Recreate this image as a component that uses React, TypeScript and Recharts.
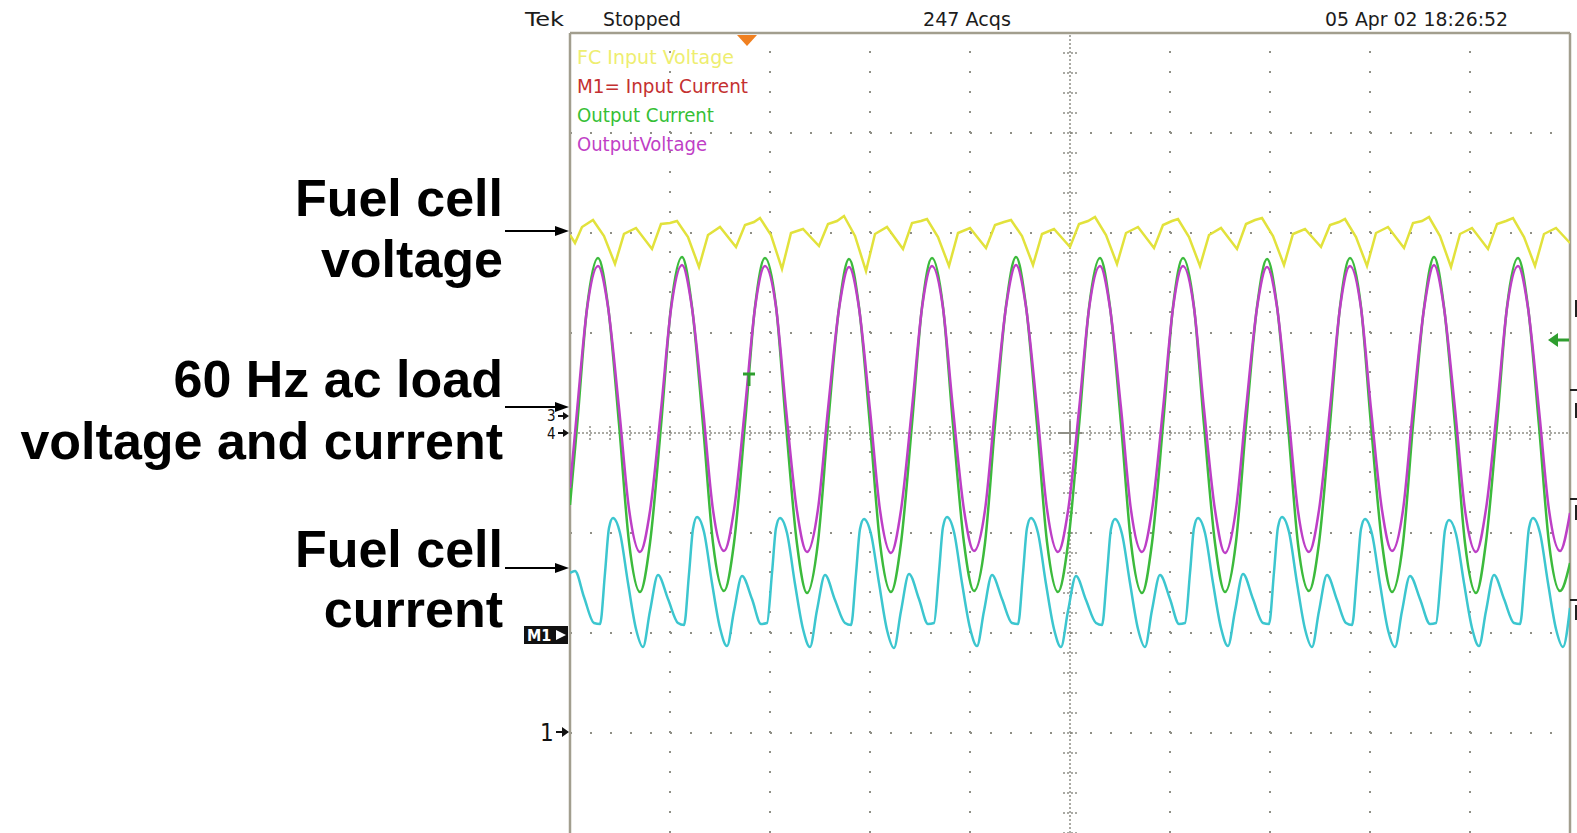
import React from 'react';
import { LineChart, Line, XAxis, YAxis, ReferenceLine } from 'recharts';

// scope screen: 10 x 8 divisions, x = time in div, y = div from the centre line

const outputVoltage: [number, number][] = [
  [0, -0.55], [0.07, 0.22], [0.17, 1.24],
  [0.28, 1.67], [0.38, 1.26], [0.49, 0.25], [0.59, -0.76], [0.7, -1.19], [0.8, -0.78], [0.91, 0.23], [1.01, 1.24],
  [1.12, 1.68], [1.22, 1.25], [1.33, 0.24], [1.43, -0.77], [1.54, -1.18], [1.64, -0.77], [1.75, 0.25], [1.85, 1.25],
  [1.95, 1.67], [2.06, 1.26], [2.16, 0.24], [2.27, -0.78], [2.37, -1.19], [2.48, -0.76], [2.58, 0.24], [2.69, 1.24],
  [2.79, 1.66], [2.89, 1.25], [3.0, 0.23], [3.1, -0.77], [3.21, -1.2], [3.31, -0.77], [3.42, 0.25], [3.52, 1.25],
  [3.62, 1.67], [3.73, 1.25], [3.83, 0.24], [3.94, -0.77], [4.04, -1.18], [4.15, -0.77], [4.25, 0.24], [4.36, 1.26],
  [4.46, 1.68], [4.56, 1.26], [4.67, 0.24], [4.77, -0.76], [4.88, -1.19], [4.98, -0.78], [5.09, 0.23], [5.19, 1.24],
  [5.3, 1.67], [5.4, 1.25], [5.51, 0.25], [5.61, -0.77], [5.72, -1.19], [5.82, -0.77], [5.93, 0.24], [6.03, 1.25],
  [6.13, 1.67], [6.24, 1.25], [6.34, 0.24], [6.45, -0.77], [6.55, -1.2], [6.66, -0.76], [6.76, 0.24], [6.87, 1.25],
  [6.97, 1.66], [7.07, 1.26], [7.18, 0.23], [7.28, -0.78], [7.39, -1.19], [7.49, -0.77], [7.6, 0.25], [7.7, 1.25],
  [7.8, 1.67], [7.91, 1.25], [8.01, 0.24], [8.12, -0.77], [8.22, -1.18], [8.33, -0.77], [8.43, 0.24], [8.54, 1.24],
  [8.64, 1.68], [8.74, 1.25], [8.85, 0.24], [8.95, -0.77], [9.06, -1.19], [9.16, -0.76], [9.27, 0.24], [9.37, 1.25],
  [9.48, 1.67], [9.58, 1.25], [9.69, 0.23], [9.79, -0.77], [9.9, -1.18], [10, -0.8],
];

const outputCurrent: [number, number][] = [
  [0, -0.72], [0.07, 0.06], [0.17, 1.25],
  [0.28, 1.75], [0.38, 1.27], [0.49, 0.09], [0.59, -1.09], [0.7, -1.59], [0.8, -1.1], [0.91, 0.07], [1.01, 1.26],
  [1.12, 1.76], [1.22, 1.26], [1.33, 0.08], [1.43, -1.1], [1.54, -1.58], [1.64, -1.1], [1.75, 0.09], [1.85, 1.26],
  [1.95, 1.75], [2.06, 1.27], [2.16, 0.08], [2.27, -1.11], [2.37, -1.6], [2.48, -1.09], [2.58, 0.08], [2.69, 1.25],
  [2.79, 1.74], [2.89, 1.26], [3.0, 0.07], [3.1, -1.1], [3.21, -1.59], [3.31, -1.1], [3.42, 0.09], [3.52, 1.26],
  [3.62, 1.75], [3.73, 1.26], [3.83, 0.08], [3.94, -1.1], [4.04, -1.58], [4.15, -1.1], [4.25, 0.08], [4.36, 1.27],
  [4.46, 1.76], [4.56, 1.27], [4.67, 0.08], [4.77, -1.09], [4.88, -1.59], [4.98, -1.11], [5.09, 0.07], [5.19, 1.25],
  [5.3, 1.75], [5.4, 1.26], [5.51, 0.09], [5.61, -1.1], [5.72, -1.6], [5.82, -1.1], [5.93, 0.08], [6.03, 1.26],
  [6.13, 1.75], [6.24, 1.26], [6.34, 0.08], [6.45, -1.1], [6.55, -1.59], [6.66, -1.09], [6.76, 0.08], [6.87, 1.26],
  [6.97, 1.74], [7.07, 1.27], [7.18, 0.07], [7.28, -1.11], [7.39, -1.58], [7.49, -1.1], [7.6, 0.09], [7.7, 1.26],
  [7.8, 1.75], [7.91, 1.26], [8.01, 0.08], [8.12, -1.1], [8.22, -1.59], [8.33, -1.1], [8.43, 0.08], [8.54, 1.25],
  [8.64, 1.76], [8.74, 1.26], [8.85, 0.08], [8.95, -1.1], [9.06, -1.6], [9.16, -1.09], [9.27, 0.08], [9.37, 1.26],
  [9.48, 1.75], [9.58, 1.26], [9.69, 0.07], [9.79, -1.1], [9.9, -1.58], [10, -1.3],
];

const fcVoltage: [number, number][] = [
  [0, 1.98], [0.05, 1.9], [0.12, 2.06],
  [0.23, 2.13], [0.34, 1.97], [0.45, 1.69], [0.54, 1.99], [0.66, 2.05], [0.82, 1.84], [0.91, 2.09], [1.0, 2.1],
  [1.07, 2.12], [1.18, 1.96], [1.29, 1.66], [1.38, 1.98], [1.5, 2.06], [1.66, 1.86], [1.75, 2.08], [1.84, 2.11],
  [1.9, 2.15], [2.01, 1.98], [2.12, 1.64], [2.21, 2.0], [2.33, 2.04], [2.49, 1.87], [2.58, 2.09], [2.67, 2.12],
  [2.74, 2.17], [2.85, 1.97], [2.96, 1.62], [3.05, 1.99], [3.17, 2.06], [3.33, 1.84], [3.42, 2.1], [3.51, 2.12],
  [3.57, 2.14], [3.68, 1.96], [3.79, 1.67], [3.88, 2.0], [4.0, 2.05], [4.16, 1.85], [4.25, 2.08], [4.34, 2.11],
  [4.41, 2.13], [4.52, 1.97], [4.63, 1.68], [4.72, 1.99], [4.84, 2.04], [5.0, 1.86], [5.09, 2.09], [5.18, 2.12],
  [5.25, 2.16], [5.36, 1.98], [5.47, 1.69], [5.56, 2.0], [5.68, 2.06], [5.84, 1.85], [5.93, 2.08], [6.02, 2.12],
  [6.08, 2.14], [6.19, 1.96], [6.3, 1.67], [6.39, 1.98], [6.51, 2.05], [6.67, 1.84], [6.76, 2.09], [6.85, 2.13],
  [6.92, 2.15], [7.03, 1.97], [7.14, 1.68], [7.23, 1.99], [7.35, 2.04], [7.51, 1.86], [7.6, 2.08], [7.69, 2.11],
  [7.75, 2.14], [7.86, 1.96], [7.97, 1.67], [8.06, 2.0], [8.18, 2.06], [8.34, 1.85], [8.43, 2.1], [8.52, 2.12],
  [8.59, 2.16], [8.7, 1.97], [8.81, 1.66], [8.9, 1.99], [9.02, 2.05], [9.18, 1.84], [9.27, 2.09], [9.36, 2.12],
  [9.43, 2.15], [9.54, 1.96], [9.65, 1.67], [9.74, 1.99], [9.86, 2.05], [10, 1.9],
];

const fcCurrent: [number, number][] = [
  [0, -1.4], [0.05, -1.38], [0.14, -1.64],
  [0.24, -1.9], [0.3, -1.91], [0.35, -1.4], [0.39, -0.95], [0.43, -0.85], [0.5, -1.0], [0.58, -1.5], [0.66, -1.96], [0.73, -2.14], [0.8, -1.78], [0.88, -1.42], [0.98, -1.66],
  [1.08, -1.9], [1.14, -1.92], [1.19, -1.41], [1.23, -0.96], [1.27, -0.84], [1.34, -0.99], [1.42, -1.5], [1.5, -1.95], [1.57, -2.13], [1.64, -1.78], [1.72, -1.43], [1.82, -1.66],
  [1.91, -1.91], [1.97, -1.9], [2.02, -1.4], [2.06, -0.95], [2.1, -0.85], [2.17, -1.0], [2.25, -1.51], [2.33, -1.96], [2.4, -2.14], [2.47, -1.77], [2.55, -1.42], [2.65, -1.67],
  [2.75, -1.9], [2.81, -1.92], [2.86, -1.41], [2.9, -0.96], [2.94, -0.86], [3.01, -1.01], [3.09, -1.5], [3.17, -1.97], [3.24, -2.15], [3.31, -1.78], [3.39, -1.41], [3.49, -1.66],
  [3.58, -1.91], [3.64, -1.9], [3.69, -1.39], [3.73, -0.94], [3.77, -0.84], [3.84, -0.99], [3.92, -1.5], [4.0, -1.95], [4.07, -2.13], [4.14, -1.78], [4.22, -1.42], [4.32, -1.66],
  [4.42, -1.9], [4.48, -1.91], [4.53, -1.4], [4.57, -0.95], [4.61, -0.85], [4.68, -1.0], [4.76, -1.51], [4.84, -1.96], [4.91, -2.14], [4.98, -1.78], [5.06, -1.43], [5.16, -1.67],
  [5.26, -1.9], [5.32, -1.92], [5.37, -1.41], [5.41, -0.96], [5.45, -0.86], [5.52, -1.01], [5.6, -1.5], [5.68, -1.96], [5.75, -2.14], [5.82, -1.77], [5.9, -1.42], [6.0, -1.66],
  [6.09, -1.91], [6.15, -1.9], [6.2, -1.4], [6.24, -0.95], [6.28, -0.85], [6.35, -1.0], [6.43, -1.5], [6.51, -1.95], [6.58, -2.13], [6.65, -1.78], [6.73, -1.41], [6.83, -1.66],
  [6.93, -1.9], [6.99, -1.91], [7.04, -1.39], [7.08, -0.94], [7.12, -0.84], [7.19, -0.99], [7.27, -1.5], [7.35, -1.96], [7.42, -2.14], [7.49, -1.78], [7.57, -1.42], [7.67, -1.67],
  [7.76, -1.9], [7.82, -1.92], [7.87, -1.41], [7.91, -0.96], [7.95, -0.86], [8.02, -1.01], [8.1, -1.51], [8.18, -1.97], [8.25, -2.14], [8.32, -1.78], [8.4, -1.43], [8.5, -1.66],
  [8.6, -1.91], [8.66, -1.9], [8.71, -1.42], [8.75, -0.97], [8.79, -0.87], [8.86, -1.01], [8.94, -1.5], [9.02, -1.95], [9.09, -2.13], [9.16, -1.78], [9.24, -1.42], [9.34, -1.66],
  [9.44, -1.9], [9.5, -1.91], [9.55, -1.4], [9.59, -0.95], [9.63, -0.85], [9.7, -1.0], [9.78, -1.5], [9.86, -1.96], [9.93, -2.14], [10, -1.75],
];

const majorX = [1, 2, 3, 4, 6, 7, 8, 9];
const majorY = [-3, -2, -1, 1, 2, 3];
const minorX = Array.from({ length: 51 }, (_, i) => Math.round(i * 2) / 10);
const minorY = Array.from({ length: 41 }, (_, i) => Math.round((i * 2 - 40)) / 10);

const legendItems = [
  { text: 'FC Input Voltage', color: '#eeee70', len: 157 },
  { text: 'M1= Input Current', color: '#c43030', len: 171 },
  { text: 'Output Current', color: '#36bf36', len: 137 },
  { text: 'OutputVoltage', color: '#c03fc6', len: 130 },
];

const GRID = '#8f8f86';
const BORDER = '#a29e8e';
const rows = (pts: [number, number][]) => pts.map(([t, v]) => ({ t, v }));
const tickStyle = { stroke: GRID, strokeWidth: 2, strokeDasharray: '2 2' };
const narrow = "'Liberation Sans Narrow','DejaVu Sans Condensed','Liberation Sans',sans-serif";
const bold = "'Liberation Sans',Arial,sans-serif";

const Arrow = ({ y }: { y: number }) => (
  <g>
    <line x1={505} x2={557} y1={y} y2={y} stroke="#000" strokeWidth={2} />
    <polygon points={`555,${y - 5} 569,${y} 555,${y + 5}`} fill="#000" />
  </g>
);

export default function App() {
  return (
    <div style={{ position: 'absolute', left: 0, top: 0, width: 1577, height: 833, background: '#fff' }}>
      <LineChart width={1577} height={833} margin={{ top: 33, right: 7, bottom: 0, left: 570 }}>
        <XAxis dataKey="t" type="number" domain={[0, 10]} ticks={minorX} orientation="bottom" mirror
          axisLine={false} tick={false} tickSize={6} tickLine={tickStyle} allowDataOverflow />
        <XAxis xAxisId="top" type="number" domain={[0, 10]} ticks={minorX} orientation="top" mirror
          axisLine={false} tick={false} tickSize={6} tickLine={tickStyle} />
        <YAxis type="number" domain={[-4, 4]} ticks={minorY} orientation="left" mirror
          axisLine={false} tick={false} tickSize={6} tickLine={tickStyle} allowDataOverflow />
        <YAxis yAxisId="right" type="number" domain={[-4, 4]} ticks={minorY} orientation="right" mirror
          axisLine={false} tick={false} tickSize={6} tickLine={tickStyle} />

        {majorX.map((x) => (
          <ReferenceLine key={'vx' + x} x={x} stroke={GRID} strokeWidth={2} strokeDasharray="2 18" />
        ))}
        {majorY.map((y) => (
          <ReferenceLine key={'hy' + y} y={y} stroke={GRID} strokeWidth={2} strokeDasharray="2 18" />
        ))}
        <ReferenceLine x={5} stroke={GRID} strokeWidth={1.5} strokeDasharray="2 2" />
        <ReferenceLine y={0} stroke={GRID} strokeWidth={1.5} strokeDasharray="2 2" />
        {minorX.map((x) => (
          <ReferenceLine key={'cx' + x} segment={[{ x, y: -0.07 }, { x, y: 0.07 }]} stroke={GRID} strokeWidth={1.5} strokeDasharray="2 2" />
        ))}
        {minorY.map((y) => (
          <ReferenceLine key={'cy' + y} segment={[{ x: 4.93, y }, { x: 5.07, y }]} stroke={GRID} strokeWidth={1.5} strokeDasharray="2 2" />
        ))}
        <ReferenceLine segment={[{ x: 4.88, y: 0 }, { x: 5.12, y: 0 }]} stroke={GRID} strokeWidth={2} />
        <ReferenceLine segment={[{ x: 5, y: -0.12 }, { x: 5, y: 0.12 }]} stroke={GRID} strokeWidth={2} />
        <ReferenceLine x={0} stroke={BORDER} strokeWidth={2.5} />
        <ReferenceLine x={10} stroke={BORDER} strokeWidth={2.5} />
        <ReferenceLine y={4} stroke={BORDER} strokeWidth={2.5} />

        <Line data={rows(outputCurrent)} dataKey="v" type="monotone" stroke="#3cba3c" strokeWidth={2.5}
          dot={false} activeDot={false} isAnimationActive={false} />
        <Line data={rows(outputVoltage)} dataKey="v" type="monotone" stroke="#bd3fc6" strokeWidth={2.5}
          dot={false} activeDot={false} isAnimationActive={false} />
        <Line data={rows(fcVoltage)} dataKey="v" type="linear" stroke="#e2e23c" strokeWidth={2.5}
          dot={false} activeDot={false} isAnimationActive={false} />
        <Line data={rows(fcCurrent)} dataKey="v" type="monotone" stroke="#3cc6cf" strokeWidth={2.5}
          dot={false} activeDot={false} isAnimationActive={false} />
      </LineChart>

      <svg width={1577} height={833} style={{ position: 'absolute', left: 0, top: 0, pointerEvents: 'none' }}>
        <g fontFamily={narrow} fontSize={20} fill="#1c1c1c">
          <text x={525} y={26} textLength={39} lengthAdjust="spacingAndGlyphs">Tek</text>
          <text x={603} y={26} textLength={78} lengthAdjust="spacingAndGlyphs">Stopped</text>
          <text x={923} y={26} textLength={88} lengthAdjust="spacingAndGlyphs">247 Acqs</text>
          <text x={1325} y={26} textLength={183} lengthAdjust="spacingAndGlyphs">05 Apr 02 18:26:52</text>
        </g>
        <g fontFamily={narrow} fontSize={19}>
          {legendItems.map((it, i) => (
            <text key={it.text} x={577} y={64 + i * 29} fill={it.color} textLength={it.len} lengthAdjust="spacingAndGlyphs">
              {it.text}
            </text>
          ))}
        </g>
        <polygon points="737,35 757,35 747,46" fill="#f08020" />

        <g fontFamily={bold} fontWeight="bold" fontSize={52} fill="#000" textAnchor="end">
          <text x={503} y={216}>Fuel cell</text>
          <text x={503} y={277}>voltage</text>
          <text x={503} y={397}>60 Hz ac load</text>
          <text x={503} y={459}>voltage and current</text>
          <text x={503} y={567}>Fuel cell</text>
          <text x={503} y={627}>current</text>
        </g>
        <Arrow y={231} />
        <Arrow y={407} />
        <Arrow y={568} />

        <g fontFamily={narrow} fill="#111">
          <text x={547} y={421} fontSize={15}>3</text>
          <text x={547} y={439} fontSize={15}>4</text>
          <text x={540} y={741} fontSize={24}>1</text>
        </g>
        <g stroke="#111" strokeWidth={2}>
          <line x1={558} x2={566} y1={416} y2={416} />
          <line x1={558} x2={566} y1={433} y2={433} />
          <line x1={556} x2={566} y1={732} y2={732} />
        </g>
        <polygon points="563,412 569,416 563,420" fill="#111" />
        <polygon points="563,429 569,433 563,437" fill="#111" />
        <polygon points="562,727 569,732 562,737" fill="#111" />

        <rect x={524} y={626} width={44} height={18} fill="#111" />
        <text x={527} y={641} fontFamily={narrow} fontWeight="bold" fontSize={16} fill="#fff">M1</text>
        <polygon points="556,630 566,635 556,640" fill="#fff" />

        <g stroke="#2f9e2f" strokeWidth={3}>
          <line x1={743} x2={755} y1={374} y2={374} />
          <line x1={749} x2={749} y1={374} y2={386} />
          <line x1={1556} x2={1569} y1={340} y2={340} />
        </g>
        <polygon points="1548,340 1558,333 1558,347" fill="#2f9e2f" />

        <g fill="#222">
          <rect x={1570} y={389} width={7} height={2} />
          <rect x={1570} y={498} width={7} height={2} />
          <rect x={1570} y={599} width={7} height={2} />
          <rect x={1575} y={300} width={2} height={17} />
          <rect x={1575} y={403} width={2} height={15} />
          <rect x={1575} y={505} width={2} height={15} />
          <rect x={1575} y={605} width={2} height={15} />
        </g>
      </svg>
    </div>
  );
}
